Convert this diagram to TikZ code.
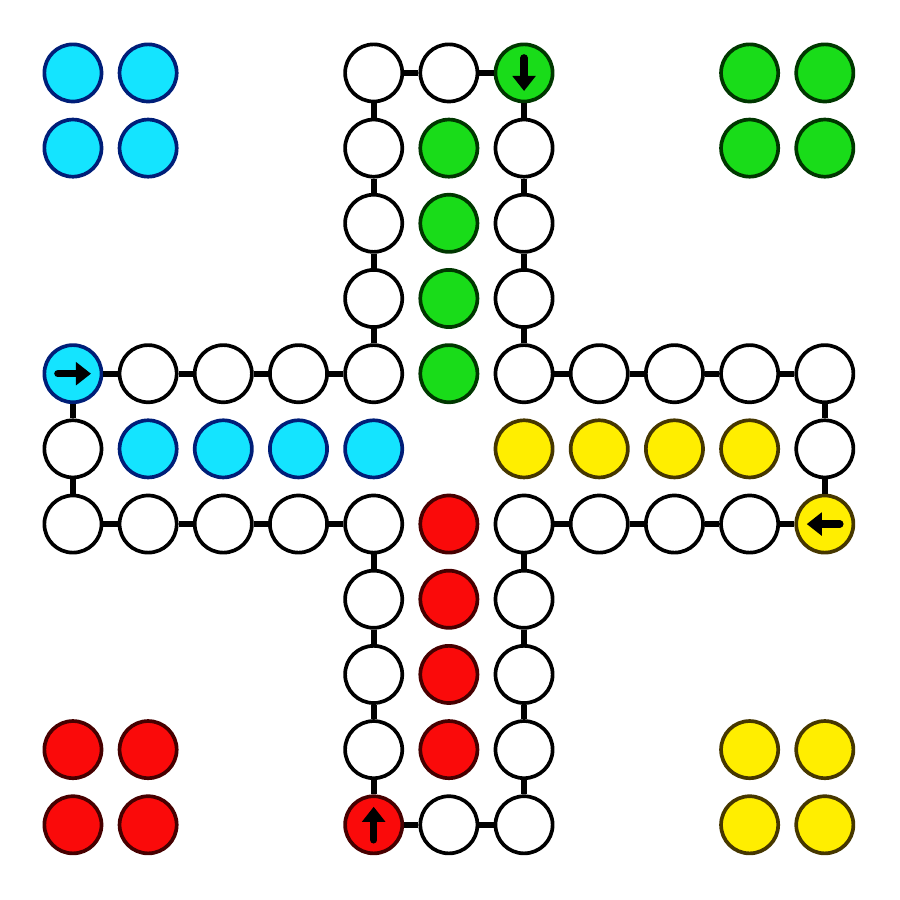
\documentclass[tikz,border=0pt]{standalone}
\usetikzlibrary{arrows.meta}
\definecolor{cyanfill}{RGB}{20,228,255}
\definecolor{cyanline}{RGB}{0,30,120}
\definecolor{greenfill}{RGB}{25,220,25}
\definecolor{greenline}{RGB}{0,55,0}
\definecolor{redfill}{RGB}{250,10,10}
\definecolor{redline}{RGB}{70,0,0}
\definecolor{yellowfill}{RGB}{255,238,0}
\definecolor{yellowline}{RGB}{70,55,0}

\tikzset{
	field/.style={circle, draw=black, fill=white, line width=1.4pt, minimum size=0.76cm, inner sep=0pt},
	cyanfield/.style={field, draw=cyanline, fill=cyanfill},
	greenfield/.style={field, draw=greenline, fill=greenfill},
	redfield/.style={field, draw=redline, fill=redfill},
	yellowfield/.style={field, draw=yellowline, fill=yellowfill},
	link/.style={line width=2.4pt},
	pointer/.style={line width=2.8pt, line cap=round, -{Triangle[length=0.2cm,width=0.3cm]}}
}

\begin{document}
\begin{tikzpicture}
				\useasboundingbox (-0.97,-1.0) rectangle (11.0,10.97);
				% track, clockwise from the cyan start
				\foreach \c/\r/\kind [count=\i] in {0/4/cyanfield,1/4/field,2/4/field,3/4/field,4/4/field,
					4/3/field,4/2/field,4/1/field,4/0/field,5/0/field,6/0/greenfield,
					6/1/field,6/2/field,6/3/field,6/4/field,7/4/field,8/4/field,9/4/field,10/4/field,
					10/5/field,10/6/yellowfield,9/6/field,8/6/field,7/6/field,6/6/field,
					6/7/field,6/8/field,6/9/field,6/10/field,5/10/field,4/10/redfield,
					4/9/field,4/8/field,4/7/field,4/6/field,3/6/field,2/6/field,1/6/field,0/6/field,0/5/field}
					\node[\kind] (t\i) at (\c,10-\r) {};
				\foreach \i [remember=\i as \j (initially 40)] in {1,...,40}
					\draw[link] (t\j) -- (t\i);
				% home rows
				\foreach \k in {1,...,4} {
					\node[greenfield] (gh\k) at (5,10-\k) {};
					\node[cyanfield] (ch\k) at (\k,5) {};
					\node[yellowfield] (yh\k) at (10-\k,5) {};
					\node[redfield] (rh\k) at (5,\k) {};
				}
				% waiting fields in the corners
				\foreach \c/\r in {0/0,1/0,0/1,1/1} {
					\node[cyanfield] (cb\c\r) at (\c,10-\r) {};
					\node[greenfield] (gb\c\r) at (9+\c,10-\r) {};
					\node[redfield] (rb\c\r) at (\c,1-\r) {};
					\node[yellowfield] (yb\c\r) at (9+\c,1-\r) {};
				}
				% direction arrows on the start fields
				\draw[pointer] ([xshift=-0.2cm]t1.center) -- ([xshift=0.24cm]t1.center);
				\draw[pointer] ([yshift=0.2cm]t11.center) -- ([yshift=-0.24cm]t11.center);
				\draw[pointer] ([xshift=0.2cm]t21.center) -- ([xshift=-0.24cm]t21.center);
				\draw[pointer] ([yshift=-0.2cm]t31.center) -- ([yshift=0.24cm]t31.center);
			\end{tikzpicture}
\end{document}
